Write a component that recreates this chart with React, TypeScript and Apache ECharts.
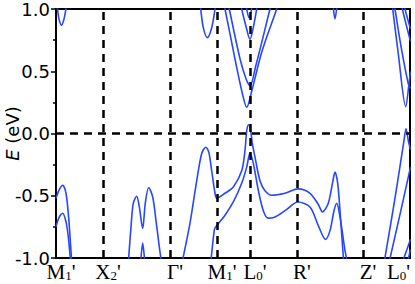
import React, { useEffect, useRef } from "react";
import * as echarts from "echarts";

// k-path positions (arbitrary path units) of the high-symmetry points
const kTicks = [0, 47, 114, 161, 194, 241, 307, 354];
const kLabels = ["M{s|1}'", "X{s|2}'", "Γ'", "M{s|1}'", "L{s|0}'", "R'", "Z'", "L{s|0}'"];
const dashedK = [47, 114, 161, 194, 241, 307];
const yMin = -1;
const yMax = 1;
const yStep = 0.5;

// bands: [k, E (eV)]
const bandM1Top = [[0.5, 1.06], [1.5, 1.0], [3.0, 0.92], [5.5, 0.87], [8.0, 0.92], [9.5, 0.98], [10.5, 1.03]];
const bandM1Upper = [[0, -0.52], [3.3, -0.45], [6.7, -0.416], [10, -0.48], [12.7, -0.68], [14.7, -0.91], [15.7, -1.03]];
const bandM1Lower = [[0, -0.75], [3.3, -0.67], [6.7, -0.64], [10, -0.71], [12.3, -0.83], [14.3, -1.0], [14.7, -1.04]];
const bandXG = [[72.5, -1.02], [75, -0.75], [77.3, -0.56], [80.7, -0.504], [83.3, -0.59], [86.7, -0.763], [89.3, -0.56], [92.7, -0.434], [96.7, -0.51], [100, -0.7], [103.3, -0.91], [105.2, -1.02]];
const bandXGSmall = [[84.8, -1.02], [86.7, -0.88], [88.6, -1.02]];
const bandVal1 = [[126.5, -1.02], [134, -0.72], [140.7, -0.38], [145.7, -0.16], [149.8, -0.11], [152.8, -0.15], [155.7, -0.3], [159, -0.48], [160.7, -0.52], [169, -0.48], [177.3, -0.43], [185.7, -0.3], [189, -0.136], [190.7, 0.02], [192.5, 0.07], [194.7, 0.02], [196.3, -0.08], [199, -0.19], [204, -0.38], [209, -0.46], [215.7, -0.496], [229, -0.48], [242, -0.445], [254, -0.48], [262.3, -0.57], [266.5, -0.63], [272.3, -0.56], [276.7, -0.39], [279, -0.31], [281.7, -0.4], [284, -0.62], [287.3, -0.99], [287.6, -1.02]];
const bandVal2 = [[155, -1.02], [158.3, -0.776], [159.7, -0.75], [169, -0.656], [177.3, -0.55], [185.7, -0.4], [190.7, -0.27], [194, -0.157], [197.3, -0.24], [202.3, -0.456], [207.3, -0.62], [212.3, -0.68], [219, -0.67], [229, -0.62], [242, -0.55], [254, -0.59], [262.3, -0.74], [269.5, -0.85], [274, -0.78], [278, -0.62], [280.7, -0.56], [284, -0.67], [289, -0.94], [291, -1.02]];
const bandU = [[143.5, 1.08], [144.7, 1.0], [147.3, 0.85], [151.3, 0.77], [155.7, 0.85], [159, 1.0], [160.2, 1.08]];
const bandV1 = [[168, 1.05], [169, 1.0], [174, 0.8], [180.7, 0.53], [187.3, 0.29], [190.7, 0.21], [196, 0.35], [206, 0.66], [220.7, 1.0], [222, 1.04]];
const bandV2 = [[172.3, 1.05], [173.3, 1.0], [184, 0.6], [190, 0.44], [194, 0.384], [200, 0.55], [214, 1.0], [215, 1.03]];
const bandV3 = [[184.7, 1.05], [185.7, 1.0], [190, 0.86], [194, 0.757], [197.5, 0.86], [200.7, 1.0], [201.7, 1.05]];
const bandV4 = [[190, 1.05], [190.7, 1.0], [193, 0.93], [195.7, 1.0], [196.5, 1.05]];
const bandSmallTop = [[277, 1.03], [279, 0.92], [281, 1.03]];
const bandR1 = [[328.5, -1.02], [339, -0.52], [348, -0.056], [350, 0.038], [352.3, -0.056], [354.5, -0.13]];
const bandR2 = [[333.5, -1.02], [344, -0.65], [354.5, -0.27]];
const bandR3 = [[347, -1.02], [351, -0.93], [354.5, -0.85]];
const bandR4 = [[352, -1.02], [354.5, -0.93]];
const bandRa = [[336, 1.04], [336.7, 1.0], [342.3, 0.64], [349.7, 0.216], [353.3, 0.42], [354.5, 0.5]];
const bandRb = [[338.3, 1.04], [339, 1.0], [345, 0.7], [352.3, 0.4], [354.5, 0.36]];
const bandRc = [[345.5, 1.04], [346.3, 1.0], [350, 0.88], [354.5, 0.74]];
const bandRd = [[348.3, 1.04], [349, 1.0], [354.5, 0.84]];

const bands = [
  bandM1Top, bandM1Upper, bandM1Lower, bandXG, bandXGSmall, bandVal1, bandVal2,
  bandU, bandV1, bandV2, bandV3, bandV4, bandSmallTop,
  bandR1, bandR2, bandR3, bandR4, bandRa, bandRb, bandRc, bandRd,
];

const BLUE = "#2846ff";
const SANS = "DejaVu Sans";

export default function App() {
  const ref = useRef<HTMLDivElement>(null);
  useEffect(() => {
    const chart = echarts.init(ref.current!, null, { renderer: "svg" });
    const bandSeries = bands.map((d) => ({
      type: "line",
      data: d,
      showSymbol: false,
      smooth: 0.3,
      clip: true,
      lineStyle: { color: BLUE, width: 1.6 },
      z: 3,
      silent: true,
    }));
    chart.setOption({
      animation: false,
      grid: {
        left: 56, right: 5, top: 9, bottom: 26,
        containLabel: false,
        outerBoundsMode: "none",
        show: true, borderColor: "#000", borderWidth: 2, backgroundColor: "transparent",
      },
      xAxis: {
        type: "value",
        min: 0,
        max: 354,
        axisLine: { show: true, onZero: false, lineStyle: { color: "#000", width: 2 } },
        axisTick: { show: false },
        splitLine: { show: false },
        axisLabel: {
          customValues: kTicks,
          formatter: (v: number) => {
            const i = kTicks.indexOf(Math.round(v));
            return i >= 0 ? kLabels[i] : "";
          },
          fontFamily: "Liberation Serif",
          fontSize: 21,
          color: "#000",
          margin: 3,
          padding: [0, 0, 0, 10],
          alignMaxLabel: "right",
          rich: {
            s: { fontFamily: "Liberation Serif", fontSize: 13, color: "#000", verticalAlign: "bottom", padding: [0, 0, 0, 0] },
          },
        },
      },
      yAxis: {
        type: "value",
        min: yMin,
        max: yMax,
        interval: yStep,
        axisLine: { show: true, onZero: false, lineStyle: { color: "#000", width: 2 } },
        axisTick: { show: true, length: 5, lineStyle: { color: "#000", width: 1.5 } },
        minorTick: { show: true, splitNumber: 2, length: 3, lineStyle: { color: "#000", width: 1.5 } },
        splitLine: { show: false },
        minorSplitLine: { show: false },
        axisLabel: {
          formatter: (v: number) => v.toFixed(1),
          fontFamily: SANS,
          fontSize: 18,
          lineHeight: 16,
          color: "#000",
          margin: 6,
        },
        name: "{i|E} (eV)",
        nameLocation: "middle",
        nameGap: 35,
        nameMoveOverlap: false,
        nameTextStyle: {
          fontFamily: SANS,
          fontSize: 18,
          color: "#000",
          rich: { i: { fontFamily: SANS, fontSize: 18, fontStyle: "italic", color: "#000" } },
        },
      },
      series: [
        {
          type: "line",
          data: [],
          silent: true,
          z: 2,
          markLine: {
            silent: true,
            symbol: ["none", "none"],
            label: { show: false },
            lineStyle: { color: "#000", type: [8, 6], width: 2.5 },
            data: [...dashedK.map((k) => ({ xAxis: k })), { yAxis: 0 }],
          },
        },
        ...bandSeries,
      ],
    });
    return () => chart.dispose();
  }, []);
  return <div ref={ref} style={{ position: "absolute", left: 0, top: 0, width: 415, height: 284 }} />;
}
